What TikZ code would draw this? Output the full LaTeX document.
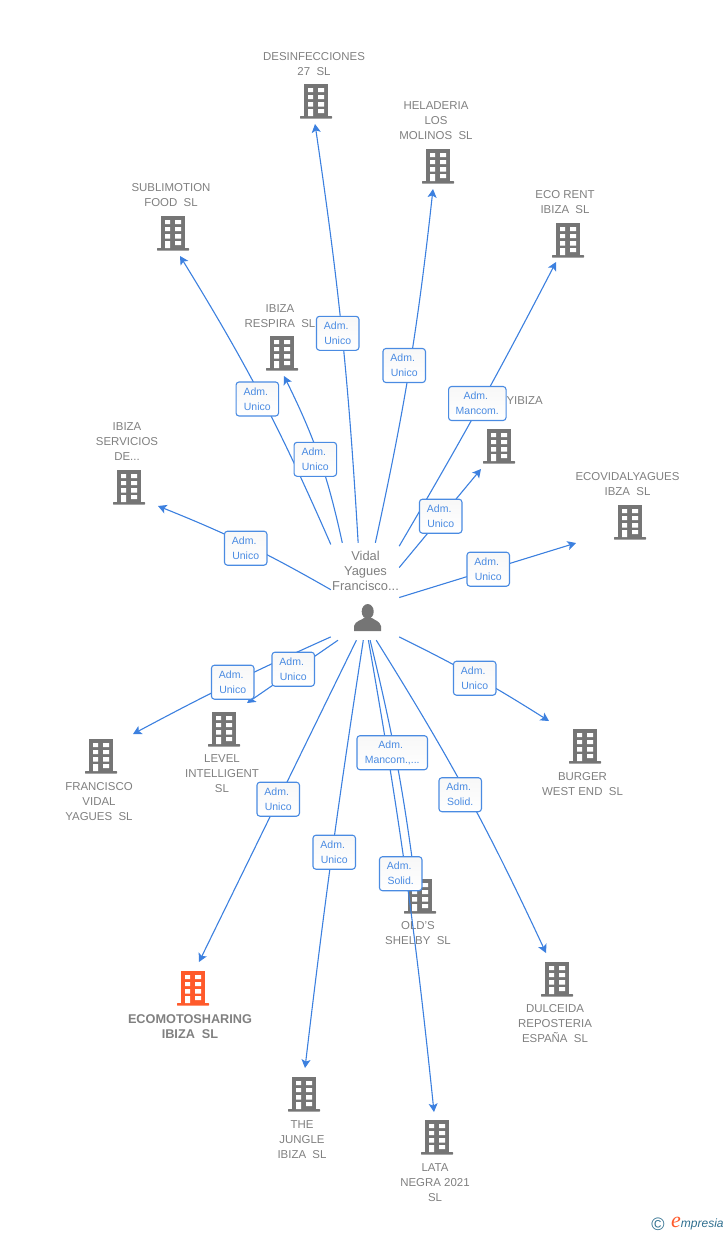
\documentclass[tikz,border=0pt]{standalone}
\usepackage{fontspec}
\setmainfont{Liberation Sans}
\usetikzlibrary{arrows.meta}

\definecolor{linkblue}{HTML}{3C80DF}
\definecolor{boxblue}{HTML}{4A8BE2}
\definecolor{labelgray}{HTML}{808080}
\definecolor{icongray}{HTML}{757575}
\definecolor{accentorange}{HTML}{FF5A2B}
\definecolor{logoteal}{HTML}{2F6F8F}

\newcommand{\adm}{Adm.\kern3pt}

\tikzset{
    pics/building/.style = {
            code = {
                    \fill[#1] (-12,-17) rectangle (12,15);
                    \fill[#1, rounded corners=0.5] (-16,15) rectangle (16,17.5);
                    \fill[white] (-8,-13) rectangle (-3,-9) (2,-13) rectangle (8,-9)
                    (-8,-6) rectangle (-3,-2) (2,-6) rectangle (8,-2)
                    (-8,1) rectangle (-3,5.5) (2,1) rectangle (8,5.5)
                    (-8,8) rectangle (-3,15) (2,8) rectangle (8,12);
                }
        },
    pics/building/.default = icongray,
}

\begin{document}
\begin{tikzpicture}
    [
        x=1pt,
        y=-1pt,
        company/.style = {
                text=labelgray,
                align=center,
                inner sep=0pt,
                yshift=-0.7pt,
                font=\fontsize{11.45}{15}\selectfont
            },
        link/.style = {
                draw=linkblue,
                line width=1.1pt,
                -{Stealth[length=8.5pt,width=9pt,inset=2pt]}
            },
        role/.style = {
                draw=boxblue,
                line width=1.1pt,
                top color=black!3,
                bottom color=white,
                rounded corners=3pt,
                minimum width=42.5pt,
                minimum height=34pt,
                inner sep=0pt,
                align=center,
                text=boxblue,
                font=\fontsize{10.5}{15}\selectfont
            },
    ]

    \useasboundingbox (0,0) rectangle (728,1235);

    % buildings
    \pic at (316,101) {building};
    \pic at (438,166) {building};
    \pic at (568,240) {building};
    \pic at (173,233) {building};
    \pic at (282,353) {building};
    \pic at (499,446) {building};
    \pic at (129,487) {building};
    \pic at (630,522) {building};
    \pic at (224,729) {building};
    \pic at (101,756) {building};
    \pic at (585,746) {building};
    \pic at (420,896) {building};
    \pic at (193,988) {building=accentorange};
    \pic at (557,979) {building};
    \pic at (304,1094) {building};
    \pic at (437,1137) {building};

    % names
    \node[company] (desinfecciones) at (314,63.5) {DESINFECCIONES\\27\ \ SL};
    \node[company] (heladeria) at (436,120) {HELADERIA\\LOS\\MOLINOS\ \ SL};
    \node[company] (ecorent) at (565,201.5) {ECO RENT\\IBIZA\ \ SL};
    \node[company] (sublimotion) at (171,194.5) {SUBLIMOTION\\FOOD\ \ SL};
    \node[company] (respira) at (280,315.5) {IBIZA\\RESPIRA\ \ SL};
    \node[company, anchor=east] (yibiza) at (543,400) {YIBIZA};
    \node[company] (servicios) at (127,441) {IBIZA\\SERVICIOS\\DE...};
    \node[company] (ecovidal) at (627.5,483.5) {ECOVIDALYAGUES\\IBZA\ \ SL};
    \node[company] (level) at (222,773) {LEVEL\\INTELLIGENT\\SL};
    \node[company] (francisco) at (99,801) {FRANCISCO\\VIDAL\\YAGUES\ \ SL};
    \node[company] (burger) at (582.5,783.5) {BURGER\\WEST END\ \ SL};
    \node[company] (olds) at (418,932.5) {OLD'S\\SHELBY\ \ SL};
    \node[company, font=\fontsize{12.7}{15}\selectfont\bfseries] (ecomoto) at (190,1025.5) {ECOMOTOSHARING\\IBIZA\ \ SL};
    \node[company] (dulceida) at (555,1023) {DULCEIDA\\REPOSTERIA\\ESPAÑA\ \ SL};
    \node[company] (jungle) at (302,1139) {THE\\JUNGLE\\IBIZA\ \ SL};
    \node[company] (lata) at (435,1182) {LATA\\NEGRA 2021\\SL};

    % person in the middle
    \node[minimum width=68pt, minimum height=97pt, inner sep=0pt] (person) at (365,591.5) {};
    \node[company, font=\fontsize{12.9}{15}\selectfont] (vidal) at (365.5,570) {Vidal\\Yagues\\Francisco...};
    \fill[icongray] (367.7,611.5) ellipse (6 and 7.5);
    \fill[icongray] (354,631) -- (354,626) .. controls (355,621) and (362,620) .. (364,618)
    -- (372,618) .. controls (374,620) and (380,621) .. (381,626) -- (381,631) -- cycle;

    % arrow ends
    \coordinate (desinfeccionesIn) at (315,124);
    \coordinate (heladeriaIn) at (433,189);
    \coordinate (ecorentIn) at (556,262);
    \coordinate (sublimotionIn) at (180,256);
    \coordinate (respiraIn) at (284,376);
    \coordinate (yibizaIn) at (481,469);
    \coordinate (serviciosIn) at (158,506);
    \coordinate (ecovidalIn) at (576,543);
    \coordinate (levelIn) at (247,703);
    \coordinate (franciscoIn) at (133,734);
    \coordinate (burgerIn) at (549,721);
    \coordinate (oldsIn) at (415,880);
    \coordinate (ecomotoIn) at (199,962);
    \coordinate (dulceidaIn) at (546,953);
    \coordinate (jungleIn) at (305,1068);
    \coordinate (lataIn) at (434,1112);

    \draw[link] (person.98.2) to[bend right=2.5] (desinfeccionesIn);
    \draw[link] (person.78.4) to[bend right=3] (heladeriaIn);
    \draw[link] (person.53.2) to[bend right=1.5] (ecorentIn);
    \draw[link] (person.126.2) to[bend right=4] (sublimotionIn);
    \draw[link] (person.115.3) to[bend right=7] (respiraIn);
    \draw[link] (person.35.8) -- (yibizaIn);
    \draw[link] (person.177.5) to[bend right=4] (serviciosIn);
    \draw[link] (person.-10.8) -- (ecovidalIn);
    \draw[link] (person.-119.2) -- (levelIn);
    \draw[link] (person.-127.4) to[bend right=2] (franciscoIn);
    \draw[link] (person.-53.8) to[bend left=3] (burgerIn);
    \draw[link] (person.-84.1) to[bend left=3] (oldsIn);
    \draw[link] (person.-100.5) -- (ecomotoIn);
    \draw[link] (person.-77.1) to[bend left=3.5] (dulceidaIn);
    \draw[link] (person.-92.4) to[bend right=1] (jungleIn);
    \draw[link] (person.-86.5) to[bend left=2] (lataIn);

    % roles
    \node[role] (desinfeccionesRole) at (337.7,333.3) {\adm\\Unico};
    \node[role] (heladeriaRole) at (404.2,365.5) {\adm\\Unico};
    \node[role, minimum width=57.5pt] (ecorentRole) at (477.3,403.5) {\adm\\Mancom.};
    \node[role] (sublimotionRole) at (257.3,399) {\adm\\Unico};
    \node[role] (respiraRole) at (315.3,459.3) {\adm\\Unico};
    \node[role] (yibizaRole) at (440.7,516.2) {\adm\\Unico};
    \node[role] (serviciosRole) at (245.7,548.2) {\adm\\Unico};
    \node[role] (ecovidalRole) at (488.2,569.2) {\adm\\Unico};
    \node[role] (levelRole) at (293.2,669.2) {\adm\\Unico};
    \node[role] (franciscoRole) at (232.7,682.2) {\adm\\Unico};
    \node[role] (burgerRole) at (474.7,678.2) {\adm\\Unico};
    \node[role, minimum width=70.5pt] (oldsRole) at (392.2,752.7) {\adm\\Mancom.,...};
    \node[role] (ecomotoRole) at (278.2,799.2) {\adm\\Unico};
    \node[role] (dulceidaRole) at (460.2,794.7) {\adm\\Solid.};
    \node[role] (jungleRole) at (334.2,852.2) {\adm\\Unico};
    \node[role] (lataRole) at (400.7,873.7) {\adm\\Solid.};

    % logo
    \node[text=logoteal, inner sep=0pt, font=\fontsize{18}{18}\selectfont] (copyright) at (658,1224) {©};
    \node[anchor=west, inner sep=0pt, text=logoteal, font=\fontsize{12}{15}\selectfont\itshape] (empresia) at (671,1224)
    {\textcolor{accentorange}{\fontsize{22}{15}\selectfont\fontspec{Liberation Serif}\itshape e}mpresia};

\end{tikzpicture}
\end{document}
